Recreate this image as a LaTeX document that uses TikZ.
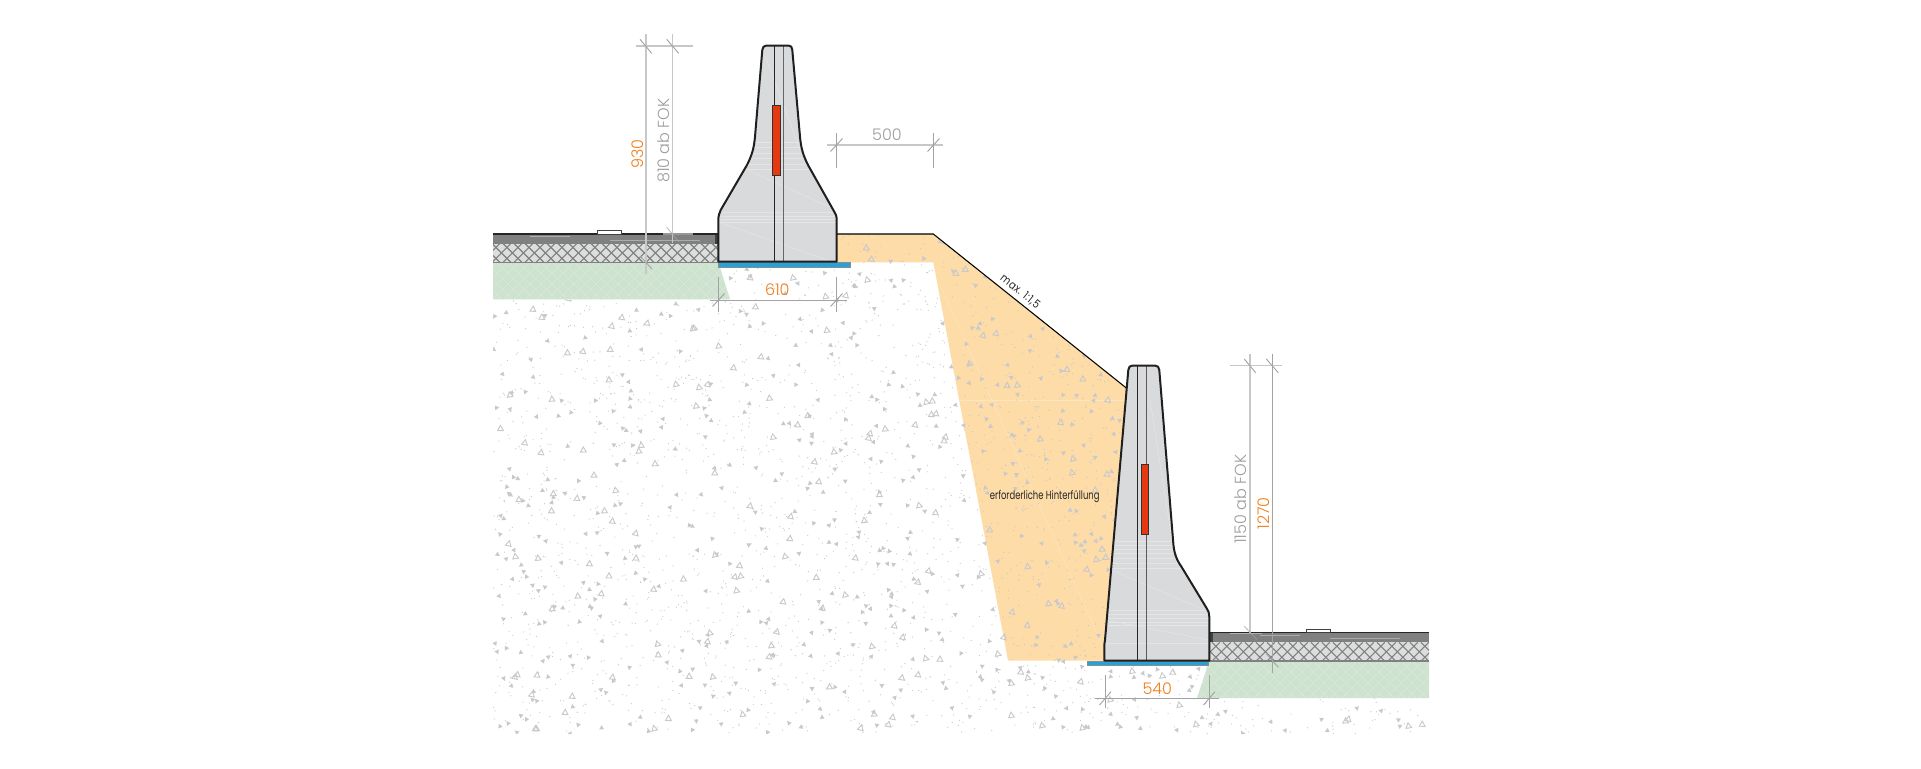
\documentclass[tikz,border=0pt]{standalone}
\usepackage{fontspec}
\setmainfont{Poppins Light}
\newfontfamily\labelfont[FakeStretch=0.72]{Poppins}
\newfontfamily\slopefont[FakeStretch=0.85,LetterSpace=4]{Poppins}
\definecolor{concrete}{HTML}{D9DADC}
\definecolor{backfill}{HTML}{FDDCA8}
\definecolor{turf}{HTML}{CDE2CF}
\definecolor{asphalt}{HTML}{808080}
\definecolor{ballast}{HTML}{DCDDDD}
\definecolor{foil}{HTML}{23A3D9}
\definecolor{reflector}{HTML}{E8380F}
\definecolor{dimorange}{HTML}{F07D1A}
\definecolor{dimgrey}{HTML}{9C9C9C}
\definecolor{gravel}{HTML}{C7C9CC}
\tikzset{
  wallline/.style={draw=black!88,line width=1.5pt,line join=round},
  dimthick/.style={draw=black!22,line width=1.1pt},
  dimthin/.style={draw=black!36,line width=0.7pt},
  dimtext/.style={text=dimgrey,font=\fontsize{12}{13}\selectfont,inner sep=0pt},
  maintext/.style={text=dimorange,font=\fontsize{12}{13}\selectfont,inner sep=0pt},
  smalltext/.style={text=black!85,font=\labelfont\fontsize{8.8}{10}\selectfont,inner sep=0pt},
  slopetext/.style={text=black!85,font=\slopefont\fontsize{8.6}{10}\selectfont,inner sep=0pt},
}
\begin{document}
\begin{tikzpicture}[x=0.75pt,y=0.75pt,yscale=-1,xscale=1]
\useasboundingbox (0,0) rectangle (1921,768);
\pgfmathsetseed{4711}

%Shape: Backfill
\fill [backfill] (836.7,234) -- (933.3,234) -- (1126.7,388.3) -- (1105,660.7) -- (1008,660.7) -- (933.3,262.3) -- (836.7,262.3) -- cycle ;
\draw [white!25!backfill,line width=0.4pt] (960,400) -- (1126,400) ;
\draw [white!25!backfill,line width=0.4pt] (940,285) -- (1100,640) ;

%Gravel
\begin{scope}
\clip (493,299.3) -- (730,299.3) -- (718,262.3) -- (836.7,262.3) -- (836.7,234) -- (933.3,234) -- (1126.7,388.3) -- (1209,661) -- (1197,698) -- (1428,698) -- (1428,734) -- (493,734) -- cycle ;
\foreach \i in {1,...,3200}{
  \fill [gravel] ({493+935*rnd},{234+500*rnd}) circle (0.65) ;
}
\foreach \i in {1,...,760}{
  \pgfmathsetmacro{\gx}{493+935*rnd}
  \pgfmathsetmacro{\gy}{234+500*rnd}
  \pgfmathsetmacro{\ga}{360*rnd}
  \fill [gravel,shift={(\gx,\gy)},rotate=\ga] (0,-2.6) -- (2.4,1.6) -- (-2.4,1.6) -- cycle ;
}
\foreach \i in {1,...,300}{
  \pgfmathsetmacro{\gx}{493+935*rnd}
  \pgfmathsetmacro{\gy}{234+500*rnd}
  \pgfmathsetmacro{\ga}{30*rnd-15}
  \draw [gravel,line width=0.7pt,shift={(\gx,\gy)},rotate=\ga] (0,-3.2) -- (2.9,2) -- (-2.9,2) -- cycle ;
}
\end{scope}

%Shape: Turf left
\begin{scope}
\fill [turf] (493,262.3) -- (718.3,262.3) -- (730,299.3) -- (493,299.3) -- cycle ;
\clip (493,262.3) -- (718.3,262.3) -- (730,299.3) -- (493,299.3) -- cycle ;
\foreach \i in {280,291,...,1000}{
  \draw [white!25!turf,line width=0.5pt] (\i,243) -- (\i+60,303) ;
  \draw [white!25!turf,line width=0.5pt] (\i,303) -- (\i+60,243) ;
}
\end{scope}
%Shape: Turf right
\begin{scope}
\fill [turf] (1209.3,661) -- (1429,661) -- (1429,698) -- (1197,698) -- cycle ;
\clip (1209.3,661) -- (1429,661) -- (1429,698) -- (1197,698) -- cycle ;
\foreach \i in {1140,1151,...,1430}{
  \draw [white!25!turf,line width=0.5pt] (\i,642) -- (\i+60,702) ;
  \draw [white!25!turf,line width=0.5pt] (\i,702) -- (\i+60,642) ;
}
\end{scope}

%Road left
\fill [ballast] (493,243.5) rectangle (718.3,262.3) ;
\begin{scope}
\clip (493,243.5) rectangle (718.3,262.3) ;
\foreach \i in {470,481,...,720}{
  \draw [black!50,line width=0.8pt] (\i,243.5) -- (\i+18.8,262.3) ;
  \draw [black!50,line width=0.8pt] (\i,262.3) -- (\i+18.8,243.5) ;
}
\end{scope}
\draw [asphalt,line width=0.8pt] (493,262.3) -- (718.3,262.3) ;
\fill [asphalt] (493,234) rectangle (715,243.5) ;
\draw [white!35!asphalt,line width=0.4pt] (530,236.5) -- (570,236.5) (610,240) -- (700,240) ;
\fill [black!75] (715,234) rectangle (718.3,243.5) ;
\draw [black!85,line width=0.8pt] (493,234) -- (718.3,234) ;
\draw [fill=white,draw=black!75,line width=0.6pt] (597.3,230) rectangle (621.7,234) ;

%Road right
\fill [ballast] (1209.3,642.3) rectangle (1429,661) ;
\begin{scope}
\clip (1209.3,642.3) rectangle (1429,661) ;
\foreach \i in {1190,1201,...,1430}{
  \draw [black!50,line width=0.8pt] (\i,642.3) -- (\i+18.7,661) ;
  \draw [black!50,line width=0.8pt] (\i,661) -- (\i+18.7,642.3) ;
}
\end{scope}
\draw [asphalt,line width=0.8pt] (1209.3,661) -- (1429,661) ;
\fill [asphalt] (1212.7,632.7) rectangle (1429,642.3) ;
\draw [white!35!asphalt,line width=0.4pt] (1260,635.5) -- (1300,635.5) (1330,638.5) -- (1400,638.5) ;
\fill [black!75] (1209.3,632.7) rectangle (1212.7,642.3) ;
\draw [black!85,line width=0.8pt] (1209.3,632.7) -- (1429,632.7) ;
\draw [fill=white,draw=black!75,line width=0.6pt] (1306,629) rectangle (1330.7,632.7) ;

%Slope
\draw [black,line width=0.8pt] (836.7,234) -- (933.3,234) -- (1126.7,388.3) ;

%Foil
\draw [fill=foil,draw=black!45,line width=0.4pt] (718.3,262.7) rectangle (850.7,267) ;
\draw [fill=foil,draw=black!45,line width=0.4pt] (1087.3,661.7) rectangle (1208.3,665.3) ;

%Wall top
\fill [concrete] (718.3,261.7) -- (718.3,220) .. controls (718.3,216) and (719.5,212.5) .. (720.7,210) -- (747,165) .. controls (752,155) and (754,148) .. (755,136.7) -- (762.3,50) .. controls (762.6,47) and (764,45.7) .. (766,45.7) -- (789,45.7) .. controls (791,45.7) and (792,47) .. (792.3,50) -- (800,136.7) .. controls (801,148) and (803,155) .. (808,165) -- (833.3,210) .. controls (835.5,213) and (836.7,216) .. (836.7,220) -- (836.7,261.7) -- cycle ;
\begin{scope}
\clip (718.3,261.7) -- (718.3,220) -- (751.7,156.7) -- (762.3,50) -- (792.3,50) -- (803.3,156.7) -- (836.7,220) -- (836.7,261.7) -- cycle ;
\foreach \y in {142,147,153,158,164,169,212,216,219,222}{
  \draw [white!30!concrete,line width=0.5pt] (700,\y) -- (850,\y) ;
}
\draw [white!30!concrete,line width=0.4pt] (718.3,222) -- (830,261) ;
\draw [white!30!concrete,line width=0.4pt] (748,170) -- (836,210) ;
\draw [white!30!concrete,line width=0.4pt] (765,55) -- (800,150) ;
\end{scope}
\draw [black!85,line width=0.8pt] (774.3,45.7) -- (774.3,261.7) ;
\draw [black!60,line width=0.8pt] (783.7,45.7) -- (783.7,261.7) ;
\draw [fill=reflector,draw=black!80,line width=0.6pt] (772.7,105.3) rectangle (780,175.3) ;
\draw [wallline] (718.3,261.7) -- (718.3,220) .. controls (718.3,216) and (719.5,212.5) .. (720.7,210) -- (747,165) .. controls (752,155) and (754,148) .. (755,136.7) -- (762.3,50) .. controls (762.6,47) and (764,45.7) .. (766,45.7) -- (789,45.7) .. controls (791,45.7) and (792,47) .. (792.3,50) -- (800,136.7) .. controls (801,148) and (803,155) .. (808,165) -- (833.3,210) .. controls (835.5,213) and (836.7,216) .. (836.7,220) -- (836.7,261.7) -- cycle ;

%Wall bottom
\fill [concrete] (1104.3,660.7) -- (1104.3,645) -- (1105,640) -- (1128.3,370) .. controls (1128.6,367) and (1130,365.7) .. (1132,365.7) -- (1155.5,365.7) .. controls (1157.5,365.7) and (1159,367) .. (1159.3,370) -- (1173.3,543.3) .. controls (1174,552) and (1176,559) .. (1181,566) -- (1206.7,608.3) .. controls (1208.5,611) and (1209.3,613) .. (1209.3,616.7) -- (1209.3,660.7) -- cycle ;
\begin{scope}
\clip (1104.3,660.7) -- (1105,640) -- (1128.3,370) -- (1159.3,370) -- (1173.3,543.3) -- (1178.3,560) -- (1206.7,608.3) -- (1209.3,616.7) -- (1209.3,660.7) -- cycle ;
\foreach \y in {541,545,549,553,558,563,568,610,614,618,622,625}{
  \draw [white!30!concrete,line width=0.5pt] (1090,\y) -- (1220,\y) ;
}
\draw [white!30!concrete,line width=0.4pt] (1107,568) -- (1200,608) ;
\draw [white!30!concrete,line width=0.4pt] (1105,620) -- (1209,640) ;
\draw [white!30!concrete,line width=0.4pt] (1105,643) -- (1209,643) ;
\draw [white!30!concrete,line width=0.4pt] (1150,400) -- (1172,540) ;
\end{scope}
\draw [black!85,line width=0.8pt] (1137.3,365.7) -- (1137.3,660.7) ;
\draw [black!65,line width=0.8pt] (1146.3,365.7) -- (1146.3,660.7) ;
\draw [fill=reflector,draw=black!80,line width=0.6pt] (1141.3,464.3) rectangle (1148.7,534.3) ;
\draw [wallline] (1104.3,660.7) -- (1104.3,645) -- (1105,640) -- (1128.3,370) .. controls (1128.6,367) and (1130,365.7) .. (1132,365.7) -- (1155.5,365.7) .. controls (1157.5,365.7) and (1159,367) .. (1159.3,370) -- (1173.3,543.3) .. controls (1174,552) and (1176,559) .. (1181,566) -- (1206.7,608.3) .. controls (1208.5,611) and (1209.3,613) .. (1209.3,616.7) -- (1209.3,660.7) -- cycle ;

%Dimension 930 / 810
\draw [dimthick] (646,34) -- (646,274) ;
\draw [dimthick] (672.7,34) -- (672.7,243) ;
\draw [dimthick] (636,46) -- (692.7,46) ;
\draw [dimthick,opacity=0.7] (663,234) -- (692.7,234) ;
\draw [dimthin] (640,39.3) -- (651.7,53.3) ;
\draw [dimthin] (666.7,39.3) -- (678.7,53.3) ;
\draw [dimthin,opacity=0.7] (666.7,227.3) -- (678.7,241.7) ;
\draw [dimthin] (640,256) -- (652,269) ;

%Dimension 500
\draw [dimthick] (826.7,145) -- (943.3,145) ;
\draw [dimthin] (836.3,133.3) -- (836.3,168.3) ;
\draw [dimthin] (933.3,133.3) -- (933.3,168.3) ;
\draw [dimthin] (830.5,151.5) -- (842.5,138.5) ;
\draw [dimthin] (927.5,151.5) -- (939.5,138.5) ;

%Dimension 610
\draw [dimthin] (710,300) -- (846.7,300) ;
\draw [dimthin] (718.3,276.7) -- (718.3,311.7) ;
\draw [dimthin] (836.3,276.7) -- (836.3,311.7) ;
\draw [dimthin] (712.5,306.5) -- (724.5,293.5) ;
\draw [dimthin] (830.5,306.5) -- (842.5,293.5) ;

%Dimension 540
\draw [dimthin] (1095,698.3) -- (1219.3,698.3) ;
\draw [dimthin] (1105,675) -- (1105,708) ;
\draw [dimthin] (1209.3,675) -- (1209.3,708) ;
\draw [dimthin] (1099.5,705) -- (1111,691.7) ;
\draw [dimthin] (1203.5,705) -- (1215,691.7) ;

%Dimension 1150 / 1270
\draw [dimthick] (1250,354) -- (1250,633) ;
\draw [dimthin] (1272.3,354) -- (1272.3,672.7) ;
\draw [dimthick] (1230,365.7) -- (1282.3,365.7) ;
\draw [dimthick,opacity=0.7] (1230,633.7) -- (1262,633.7) ;
\draw [dimthin] (1244.3,359) -- (1255.7,372.7) ;
\draw [dimthin] (1266.3,359) -- (1278.3,372.7) ;
\draw [dimthin,opacity=0.7] (1244,626) -- (1256.7,639.3) ;
\draw [dimthin] (1266,653.3) -- (1278.3,667.3) ;

% Text Node
\node [maintext,rotate=90] (lbl930) at (637.3,154) {930};
% Text Node
\node [dimtext,rotate=90] (lbl810) at (664,140.7) {810 ab FOK};
% Text Node
\node [dimtext] (lbl500) at (887,134.3) {500};
% Text Node
\node [maintext] (lbl610) at (777.3,290) {610};
% Text Node
\node [maintext] (lbl540) at (1157.3,688.3) {540};
% Text Node
\node [dimtext,rotate=90] (lbl1150) at (1241,499.3) {1150 ab FOK};
% Text Node
\node [maintext,rotate=90] (lbl1270) at (1263.3,513.3) {1270};
% Text Node
\node [slopetext,rotate=-38.6] (lblslope) at (1020,291.7) {max. 1:1,5};
% Text Node
\node [smalltext] (lblfill) at (1044.7,496.3) {erforderliche Hinterfüllung};
\end{tikzpicture}
\end{document}
